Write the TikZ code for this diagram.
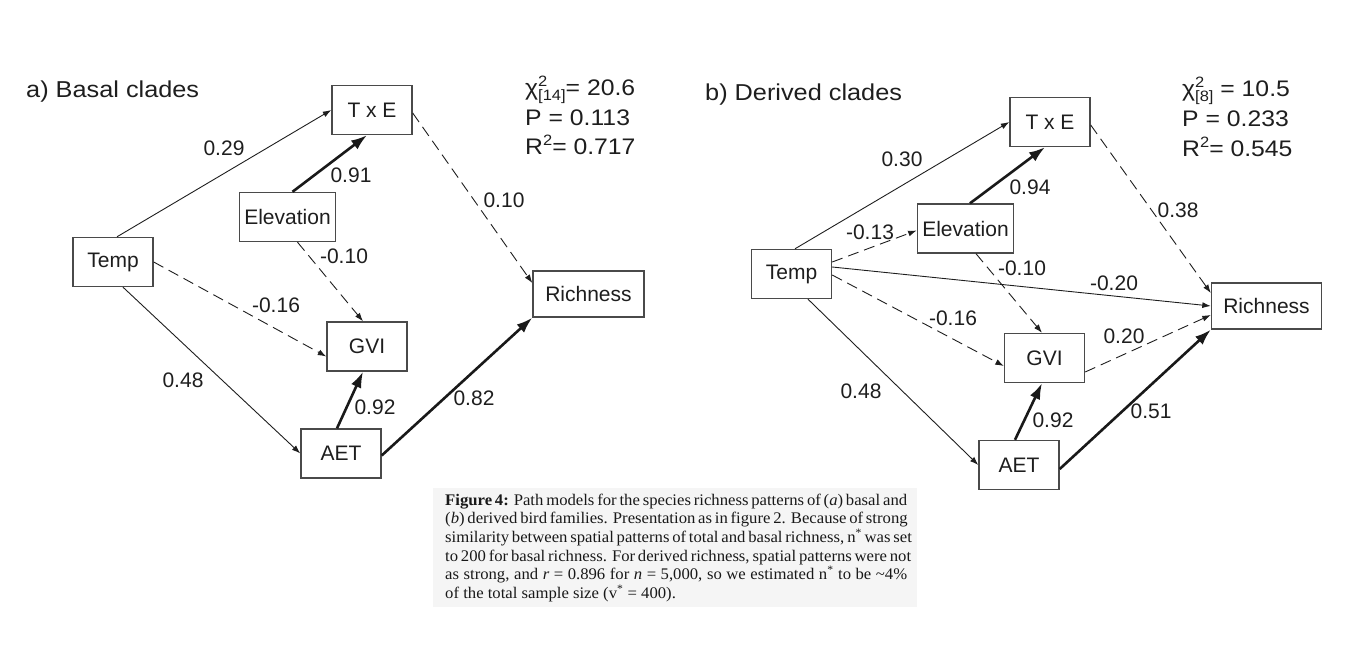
\documentclass[tikz,border=0pt]{standalone}
\usepackage{fontspec}
\setmainfont{Liberation Sans}
\newfontfamily\widefont[FakeStretch=1.1]{Liberation Sans}
\newfontfamily\capfont[FakeStretch=1.03]{Liberation Serif}
\usetikzlibrary{arrows.meta}
\definecolor{inkgray}{HTML}{1E1E1E}
\definecolor{boxgray}{HTML}{4A4A4A}
\definecolor{capshade}{HTML}{F5F5F5}
\newcommand{\stacksub}[2]{\rlap{\raisebox{9pt}{\fontsize{15}{15}\selectfont #1}}\raisebox{-5pt}{\fontsize{15}{15}\selectfont #2}}
\newcommand{\supnum}[1]{\raisebox{9pt}{\fontsize{15}{15}\selectfont #1}}
\newcommand{\capline}[1]{\makebox[462pt][s]{#1}}
\tikzset{
    box/.style={draw=boxgray, line width=1.4pt, minimum width=80pt, minimum height=49pt,
        inner xsep=5pt, text=inkgray, font=\fontsize{21}{21}\selectfont},
    effect/.style={draw=inkgray, line width=0.9pt, -{Latex[length=8.5pt,width=6pt]}},
    weakeffect/.style={effect, dash pattern=on 11pt off 6pt},
    strongeffect/.style={draw=black!90, line width=2.6pt, -{Latex[length=16pt,width=11pt]}},
    coef/.style={inner sep=0pt, text=inkgray, font=\fontsize{21}{21}\selectfont},
    paneltitle/.style={inner sep=0pt, anchor=base west, text=inkgray, font=\widefont\fontsize{23}{23}\selectfont},
    fitstat/.style={inner sep=0pt, anchor=base west, text=inkgray, font=\widefont\fontsize{22.5}{22.5}\selectfont},
    capline/.style={inner sep=0pt, anchor=base west, text=black!90, font=\capfont\fontsize{16.2}{18.7}\selectfont},
}
\begin{document}
\begin{tikzpicture}[x=1pt, y=-1pt]
    \useasboundingbox (0,0) rectangle (1345,652);
    \fill[capshade] (433,488) rectangle (917,607);
% a) basal clades
    \node[paneltitle] (titleA) at (26,98) {a) Basal clades};
    \node[fitstat] (chiA) at (525,96) {χ\stacksub{2}{[14]}= 20.6};
    \node[fitstat] (pA) at (525,125.5) {P = 0.113};
    \node[fitstat] (rA) at (525,155) {R\supnum{2}= 0.717};
    \node[box] (tempA) at (113,262) {Temp};
    \node[box] (txeA) at (372,110) {T x E};
    \node[box] (elevA) at (287.5,217) {Elevation};
    \node[box] (gviA) at (367,346.5) {GVI};
    \node[box] (aetA) at (341,453.5) {AET};
    \node[box, minimum width=111pt, minimum height=46pt] (richA) at (588.5,294) {Richness};
    \draw[effect] ([xshift=4pt]tempA.north) -- (txeA.west);
    \draw[strongeffect] ([xshift=5pt]elevA.north) -- ([xshift=-5pt]txeA.south);
    \draw[weakeffect] ([yshift=-3pt]txeA.east) -- ([yshift=11pt]richA.west);
    \draw[weakeffect] ([xshift=10pt]elevA.south) -- ([xshift=-4pt]gviA.north);
    \draw[weakeffect] (tempA.east) -- ([yshift=-10pt]gviA.west);
    \draw[effect] ([xshift=10pt]tempA.south) -- (aetA.west);
    \draw[strongeffect] ([xshift=-4pt]aetA.north) -- ([xshift=-4pt]gviA.south);
    \draw[strongeffect] ([yshift=-2pt]aetA.east) -- (richA.south west);
    \node[coef] (cTxA) at (224,148) {0.29};
    \node[coef] (cElTxA) at (351,175) {0.91};
    \node[coef] (cTxRA) at (504,200) {0.10};
    \node[coef] (cElGA) at (344,256) {-0.10};
    \node[coef] (cTGA) at (276,305) {-0.16};
    \node[coef] (cTAA) at (183,380) {0.48};
    \node[coef] (cAGA) at (375,407) {0.92};
    \node[coef] (cARA) at (474,398) {0.82};
% b) derived clades
    \node[paneltitle] (titleB) at (705,101) {b) Derived clades};
    \node[fitstat] (chiB) at (1182,97) {χ\stacksub{2}{[8]} = 10.5};
    \node[fitstat] (pB) at (1182,127) {P = 0.233};
    \node[fitstat] (rB) at (1182,157) {R\supnum{2}= 0.545};
    \node[box] (tempB) at (791.5,274) {Temp};
    \node[box] (txeB) at (1050,122) {T x E};
    \node[box] (elevB) at (965.5,228.5) {Elevation};
    \node[box] (gviB) at (1044.5,358) {GVI};
    \node[box] (aetB) at (1019,465) {AET};
    \node[box, minimum width=110pt, minimum height=46pt] (richB) at (1266.5,306) {Richness};
    \draw[effect] ([xshift=3.5pt]tempB.north) -- (txeB.west);
    \draw[weakeffect] ([yshift=12pt]tempB.east) -- ([yshift=-2pt]elevB.west);
    \draw[strongeffect] ([xshift=4.5pt]elevB.north) -- ([xshift=-5pt]txeB.south);
    \draw[effect] ([yshift=7pt]tempB.east) -- (richB.west);
    \draw[weakeffect] ([xshift=10.5pt]elevB.south) -- ([xshift=-2.5pt]gviB.north);
    \draw[weakeffect] ([yshift=-3pt]txeB.east) -- ([yshift=13pt]richB.west);
    \draw[weakeffect] ([yshift=-1pt]tempB.east) -- ([yshift=-8pt]gviB.west);
    \draw[effect] ([xshift=16.5pt]tempB.south) -- (aetB.west);
    \draw[strongeffect] ([xshift=-4pt]aetB.north) -- ([xshift=-2.5pt]gviB.south);
    \draw[strongeffect] ([yshift=-4pt]aetB.east) -- (richB.south west);
    \draw[weakeffect] ([yshift=-14pt]gviB.east) -- ([yshift=-9pt]richB.west);
    \node[coef] (cTxB) at (902,159) {0.30};
    \node[coef] (cElTxB) at (1030,187) {0.94};
    \node[coef] (cTElB) at (870,232) {-0.13};
    \node[coef] (cElGB) at (1022,268) {-0.10};
    \node[coef] (cTxRB) at (1178,210) {0.38};
    \node[coef] (cTRB) at (1114,283) {-0.20};
    \node[coef] (cGRB) at (1124,336) {0.20};
    \node[coef] (cTGB) at (953,318) {-0.16};
    \node[coef] (cTAB) at (861,391) {0.48};
    \node[coef] (cAGB) at (1053,420) {0.92};
    \node[coef] (cARB) at (1151,411) {0.51};
% caption
    \node[capline] (cap1) at (445,505) {\capline{\textbf{Figure 4:} Path models for the species richness patterns of (\textit{a}) basal and}};
    \node[capline] (cap2) at (445,523.7) {\capline{(\textit{b}) derived bird families. Presentation as in figure 2. Because of strong}};
    \node[capline] (cap3) at (445,542.4) {\capline{similarity between spatial patterns of total and basal richness, n\textsuperscript{*} was set}};
    \node[capline] (cap4) at (445,561.1) {\capline{to 200 for basal richness. For derived richness, spatial patterns were not}};
    \node[capline] (cap5) at (445,579.8) {\capline{as strong, and \textit{r} = 0.896 for \textit{n} = 5,000, so we estimated n\textsuperscript{*} to be \textasciitilde4\%}};
    \node[capline] (cap6) at (445,598.5) {of the total sample size (v\textsuperscript{*} = 400).};
\end{tikzpicture}
\end{document}
